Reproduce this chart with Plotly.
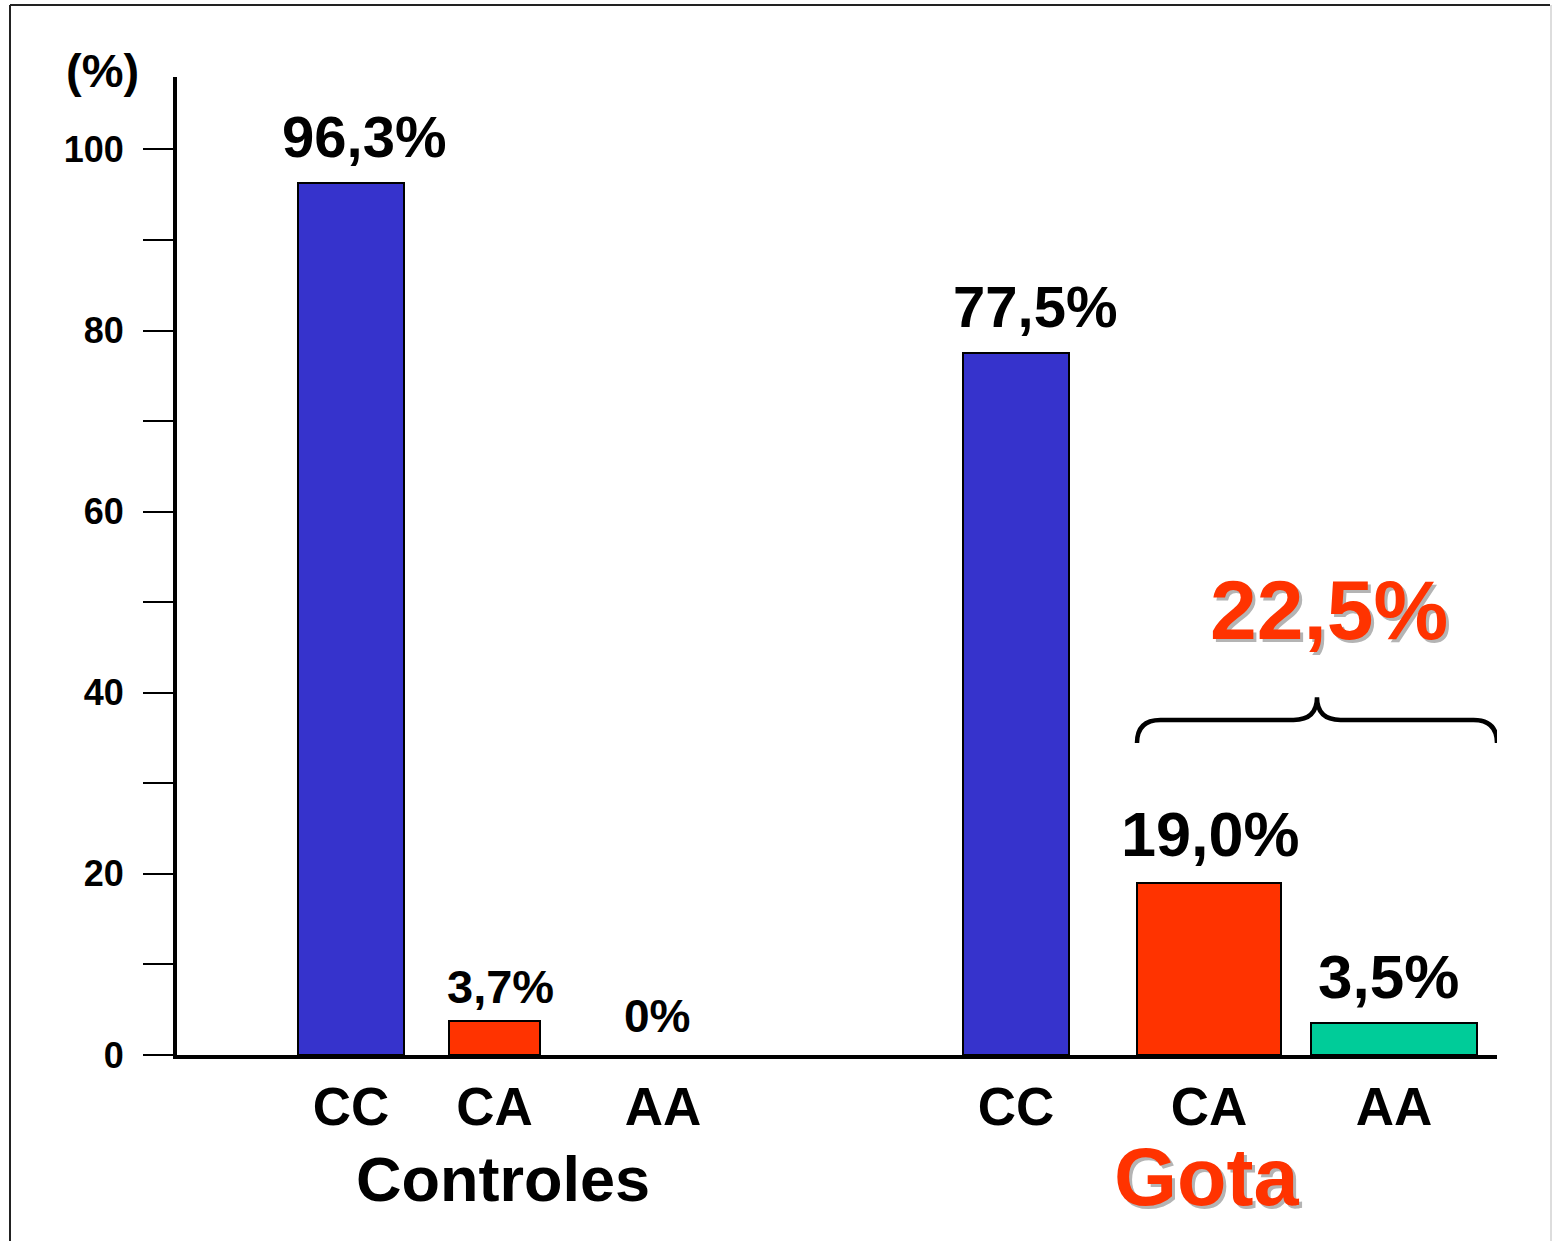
import plotly.graph_objects as go

# ---- data -------------------------------------------------------------
groups = ["Controles", "Controles", "Controles", "Gota", "Gota", "Gota"]
genotypes = ["CC", "CA", "AA", "CC", "CA", "AA"]
percent = [96.3, 3.7, 0.0, 77.5, 19.0, 3.5]
value_labels = ["96,3%", "3,7%", "0%", "77,5%", "19,0%", "3,5%"]
carrier_total_label = "22,5%"  # CA + AA in the gout group
y_tick_values = [0, 20, 40, 60, 80, 100]

# ---- layout / style ---------------------------------------------------
FONT = "Liberation Sans, Arial, sans-serif"
W, H = 1552, 1241
M_L, M_R, M_T, M_B = 177, 55, 77, 186
X_RANGE = [0, 13.2]
Y_RANGE = [0, 108]

bar_centers = [1.74, 3.175, 4.86, 8.39, 10.32, 12.17]
bar_widths = [1.06, 0.91, 0.91, 1.06, 1.44, 1.66]
bar_colors = ["#3633CC", "#FF3300", "#00CC99", "#3633CC", "#FF3300", "#00CC99"]
label_sizes = [58, 47, 46, 58, 63, 62]
label_dx = [13, 6, -6, 19, 1, -6]
label_dy = [12, 6, 11, 12, 12, 10]

RED = "#FF3300"
SHADOW = "3px 3px 0px #b4b4b4"

plot_w = W - M_L - M_R
plot_h = H - M_T - M_B


def px_x(px):
    """Pixel column -> paper x."""
    return (px - M_L) / plot_w


def px_y(py):
    """Pixel row -> paper y."""
    return (H - M_B - py) / plot_h


fig = go.Figure()

# empty (0 %) bars get no outline so nothing is drawn for them
outline_widths = [2 if v > 0 else 0 for v in percent]

fig.add_trace(
    go.Bar(
        x=bar_centers,
        y=percent,
        width=bar_widths,
        marker=dict(color=bar_colors,
                    line=dict(color="black", width=outline_widths)),
        hoverinfo="skip",
        showlegend=False,
    )
)

annotations = []

# value labels on top of each bar
for xc, v, txt, fs, dx, dy in zip(bar_centers, percent, value_labels,
                                  label_sizes, label_dx, label_dy):
    annotations.append(dict(
        x=xc, y=v, xref="x", yref="y", text=txt, showarrow=False,
        xanchor="center", yanchor="bottom", xshift=dx, yshift=dy,
        font=dict(family=FONT, size=fs, color="black", weight="bold"),
    ))

# group names under the genotype labels
group_names = ["Controles", "Gota"]
group_styles = {
    "Controles": dict(size=63, color="black", shadow="none", yshift=-124),
    "Gota": dict(size=81, color=RED, shadow=SHADOW, yshift=-122),
}
for g in group_names:
    xs = [c for c, gg in zip(bar_centers, groups) if gg == g]
    st = group_styles[g]
    annotations.append(dict(
        x=sum(xs) / len(xs), y=0, xref="x", yref="paper", text=g,
        showarrow=False, xanchor="center", yanchor="middle", yshift=st["yshift"],
        font=dict(family=FONT, size=st["size"], color=st["color"],
                  weight="bold", shadow=st["shadow"]),
    ))

# y-axis unit
annotations.append(dict(
    x=0, y=1, xref="paper", yref="paper", text="(%)", showarrow=False,
    xanchor="center", yanchor="middle", xshift=-75, yshift=7,
    font=dict(family=FONT, size=47, color="black", weight="bold"),
))

# curly brace grouping CA + AA of the gout group
i_ca, i_aa = 4, 5
bx0 = bar_centers[i_ca] - bar_widths[i_ca] / 2
bx1 = X_RANGE[1]
bxm = (bx0 + bx1) / 2
y_end, y_mid, y_tip = 34.45, 37.0, 39.5
cx = 0.235
brace_path = (
    f"M {bx0},{y_end} Q {bx0},{y_mid} {bx0 + cx},{y_mid} "
    f"L {bxm - cx},{y_mid} Q {bxm},{y_mid} {bxm},{y_tip} "
    f"Q {bxm},{y_mid} {bxm + cx},{y_mid} "
    f"L {bx1 - cx},{y_mid} Q {bx1},{y_mid} {bx1},{y_end}"
)

annotations.append(dict(
    x=bxm, y=y_tip, xref="x", yref="y", text=carrier_total_label,
    showarrow=False, xanchor="center", yanchor="bottom", xshift=12, yshift=38,
    font=dict(family=FONT, size=84, color=RED, weight="bold", shadow=SHADOW),
))

shapes = [
    dict(type="path", path=brace_path, xref="x", yref="y",
         line=dict(color="black", width=4.5), layer="above"),
    # outer frame
    dict(type="line", xref="paper", yref="paper",
         x0=px_x(10), x1=px_x(1550), y0=px_y(5), y1=px_y(5),
         line=dict(color="#222222", width=2)),
    dict(type="line", xref="paper", yref="paper",
         x0=px_x(10), x1=px_x(10), y0=px_y(5), y1=px_y(1250),
         line=dict(color="#222222", width=2)),
    dict(type="line", xref="paper", yref="paper",
         x0=px_x(1551), x1=px_x(1551), y0=px_y(5), y1=px_y(1250),
         line=dict(color="#dddddd", width=2)),
]

fig.update_layout(
    width=W, height=H,
    margin=dict(l=M_L, r=M_R, t=M_T, b=M_B, pad=0),
    paper_bgcolor="white", plot_bgcolor="white",
    font=dict(family=FONT, color="black"),
    annotations=annotations,
    shapes=shapes,
    bargap=0,
)

fig.update_xaxes(
    range=X_RANGE, showgrid=False, zeroline=False,
    showline=True, linecolor="black", linewidth=4,
    tickvals=bar_centers, ticktext=genotypes, ticks="",
    tickfont=dict(family=FONT, size=53, color="black", weight="bold"),
    ticklabelstandoff=2,
)

fig.update_yaxes(
    range=Y_RANGE, showgrid=False, zeroline=False,
    showline=True, linecolor="black", linewidth=4,
    tickvals=y_tick_values, ticks="outside", ticklen=30, tickwidth=2,
    tickcolor="black",
    minor=dict(tickvals=[10, 30, 50, 70, 90], ticks="outside", ticklen=30,
               tickwidth=2, tickcolor="black"),
    tickfont=dict(family=FONT, size=36, color="black", weight="bold"),
    ticklabelstandoff=12,
)

fig.write_html("out.html")
